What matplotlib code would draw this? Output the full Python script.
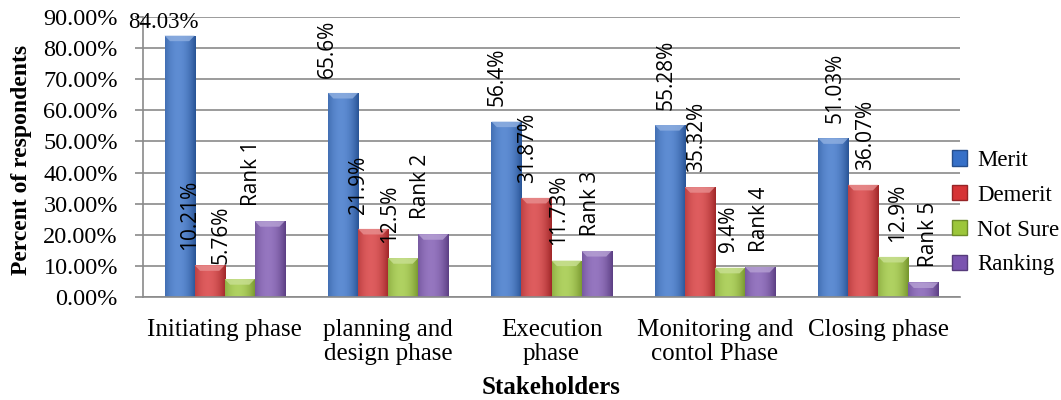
import matplotlib
matplotlib.use("Agg")
import matplotlib.pyplot as plt
import matplotlib.colors as mcolors
from matplotlib.patches import Patch, Polygon
import numpy as np

phases = ['Initiating phase', 'planning and\ndesign phase', 'Execution\nphase',
          'Monitoring and\ncontol Phase', 'Closing phase']
merit = [84.03, 65.6, 56.4, 55.28, 51.03]
demerit = [10.21, 21.9, 31.87, 35.32, 36.07]
not_sure = [5.76, 12.5, 11.73, 9.4, 12.9]
ranking = [24.4, 20.2, 14.8, 9.7, 4.7]
rank_labels = ['Rank 1', 'Rank 2', 'Rank 3', 'Rank 4', 'Rank 5']

series = [
    ('Merit', merit, '#3670c8', None),
    ('Demerit', demerit, '#d63436', None),
    ('Not Sure', not_sure, '#9cc63a', None),
    ('Ranking', ranking, '#7b54b0', rank_labels),
]

SERIF = 'Liberation Serif'
SANS = 'Open Sans'
GRID = '#8a8a8a'


def gradient(color, n=48):
    base = np.array(mcolors.to_rgb(color))
    light = base + (1 - base) * 0.2
    dark = base * 0.75
    t = np.linspace(0, 1, n)
    p = np.clip(1 - ((t - 0.42) / 0.58) ** 2, 0, 1)
    return (dark + (light - dark) * p[:, None])[None, :, :]


def shade_bars(ax, bars, color):
    img = gradient(color)
    cap = np.array(mcolors.to_rgb(color))
    cap = cap + (1 - cap) * 0.45
    for rect in bars:
        x0, w, h = rect.get_x(), rect.get_width(), rect.get_height()
        im = ax.imshow(img, extent=(x0, x0 + w, 0, h), aspect='auto',
                       interpolation='bilinear', zorder=2.1)
        im.set_clip_path(rect)
        d = min(1.8, h * 0.5)
        ax.add_patch(Polygon([(x0, h), (x0 + w, h), (x0 + w * 0.82, h - d),
                              (x0 + w * 0.18, h - d)],
                             closed=True, facecolor=cap, edgecolor='none',
                             alpha=0.8, zorder=2.2))


fig = plt.figure(figsize=(10.61, 4.0), dpi=100)
ax = fig.add_axes([143 / 1061, 1 - 297 / 400, 817 / 1061, 280 / 400])

x = np.arange(len(phases))
w = 0.184
offsets = (np.arange(len(series)) - 1.5) * w

for (name, vals, color, texts), off in zip(series, offsets):
    bx = x + off
    bars = ax.bar(bx, vals, w, color=color, label=name, zorder=2)
    shade_bars(ax, bars, color)
    for i, v in enumerate(vals):
        txt = texts[i] if texts else f'{v:g}%'
        lx = bx[i] * 1.035 - 0.12
        if v > 80:
            ax.annotate(txt, (lx + 0.03, v), xytext=(0, 2), textcoords='offset points',
                        ha='center', va='bottom', fontsize=16.5, family=SERIF, zorder=5)
        else:
            ax.annotate(txt, (lx, v), xytext=(0, 11), textcoords='offset points',
                        rotation=90, ha='center', va='bottom', fontsize=15,
                        family=SANS, zorder=5)

ax.set_xlim(-0.5, len(phases) - 0.5)
ax.set_ylim(0, 90)
ax.set_yticks(np.arange(0, 91, 10))
ax.yaxis.set_major_formatter(plt.FuncFormatter(lambda v, _: f'{v:.2f}%'))
ax.set_xticks(x)
ax.set_xticklabels(phases, linespacing=1.1)

ax.grid(axis='y', color=GRID, linewidth=1.2, zorder=0)
ax.set_axisbelow(True)
for side in ('top', 'right'):
    ax.spines[side].set_visible(False)
for side in ('left', 'bottom'):
    ax.spines[side].set_color(GRID)
    ax.spines[side].set_linewidth(1.2)

ax.tick_params(axis='y', length=6, width=1.2, color=GRID, pad=12, labelsize=17.5)
ax.tick_params(axis='x', length=0, pad=16, labelsize=18)
for lab in ax.get_xticklabels() + ax.get_yticklabels():
    lab.set_family(SERIF)

fig.text(22 / 1061, 1 - 160 / 400, 'Percent of respondents', rotation=90,
         ha='center', va='center', fontsize=17, fontweight='bold', family=SERIF)
fig.text(551 / 1061, 1 - 387 / 400, 'Stakeholders', ha='center', va='center',
         fontsize=18, fontweight='bold', family=SERIF)

handles = [Patch(facecolor=c, edgecolor=mcolors.to_hex(np.array(mcolors.to_rgb(c)) * 0.7),
                 label=n) for n, _, c, _ in series]
fig.legend(handles=handles, loc='upper left', bbox_to_anchor=(952 / 1061, 1 - 150 / 400),
           frameon=False, borderpad=0, borderaxespad=0, handlelength=0.65,
           handleheight=0.65, handletextpad=0.45, labelspacing=0.6,
           prop={'family': SERIF, 'size': 16.5})

fig.savefig('out.png', dpi=100)
